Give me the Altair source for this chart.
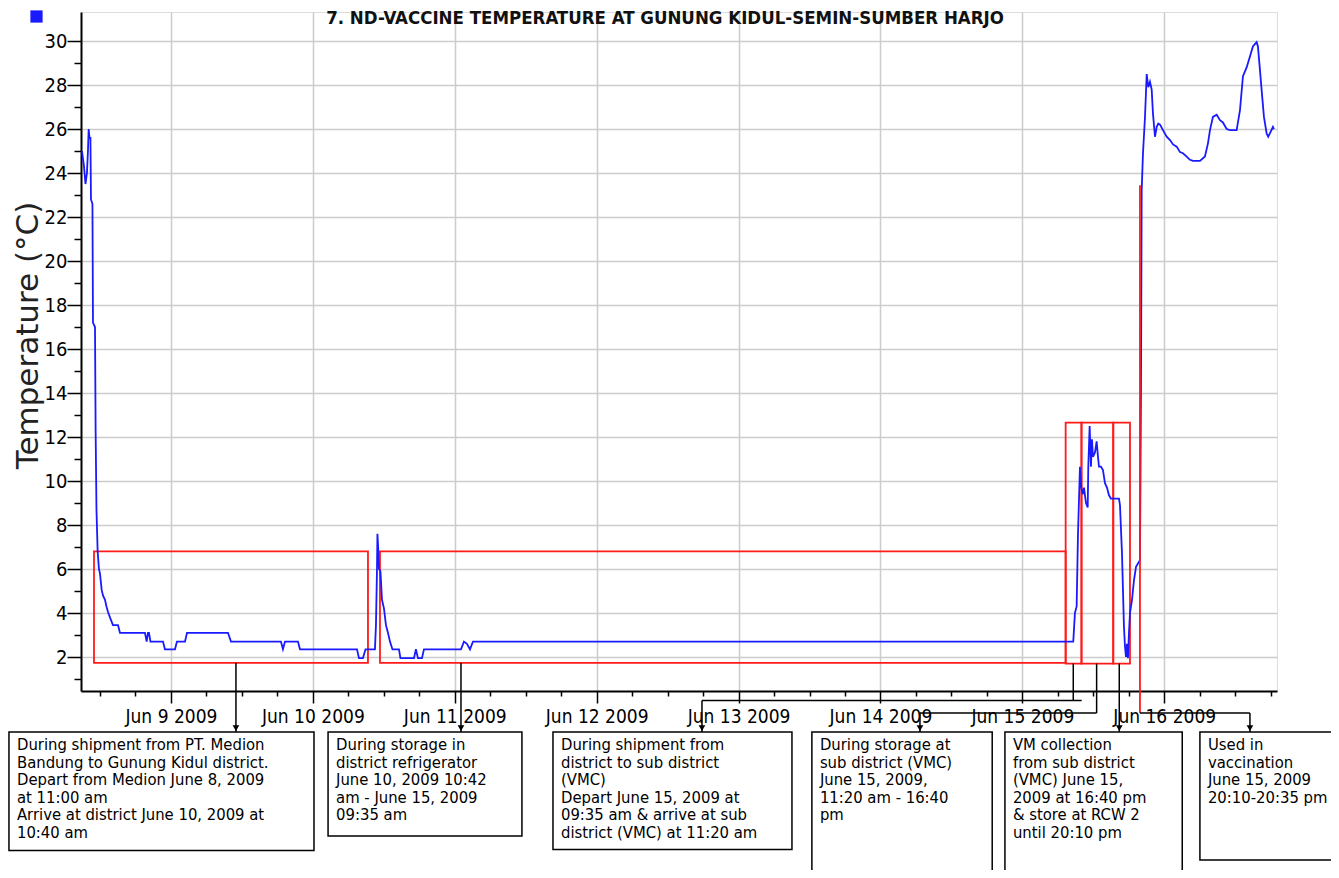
import altair as alt
import pandas as pd

TITLE = "7. ND-VACCINE TEMPERATURE AT GUNUNG KIDUL-SEMIN-SUMBER HARJO"
Y_TITLE = "Temperature (°C)"
BASE = pd.Timestamp("2009-06-08 00:00:00")

# logger readings: hours after Jun 8 2009 00:00 and temperature in °C
hours = [8.95, 9.29, 9.54, 9.79, 9.96, 10.08, 10.22, 10.38, 10.47, 10.72, 10.81, 11.15,
         11.26, 11.40, 11.60, 11.82, 11.99, 12.28, 12.50, 12.84, 13.09, 13.34, 13.68,
         14.19, 15.04, 15.37, 19.60, 19.89, 20.11, 20.28, 20.53, 22.65, 22.98, 24.68,
         25.01, 26.37, 26.71, 33.64, 34.15, 42.60, 42.94, 43.28, 45.48, 45.82, 55.46,
         55.80, 56.47, 56.90, 58.50, 58.67, 58.84, 58.92, 59.06, 59.18, 59.43, 59.69,
         60.03, 60.36, 60.70, 61.04, 61.46, 62.56, 62.81, 65.10, 65.43, 65.77, 66.45,
         66.79, 73.05, 73.55, 74.06, 74.57, 75.08, 176.61, 176.89, 177.18, 177.40,
         177.74, 177.96, 178.25, 178.42, 178.76, 179.05, 179.15, 179.38, 179.60, 179.77,
         179.94, 180.28, 180.56, 180.79, 180.96, 181.29, 181.63, 181.97, 182.31, 182.65,
         182.98, 184.34, 184.51, 184.85, 185.18, 185.35, 185.52, 185.69, 185.86, 186.03,
         186.20, 186.54, 186.88, 187.22, 187.55, 187.89, 188.06, 188.18, 188.40, 188.74,
         189.03, 189.30, 189.58, 189.87, 190.09, 190.43, 190.72, 190.99, 191.28, 191.78,
         192.41, 192.97, 193.48, 194.10, 194.66, 195.16, 195.79, 196.35, 196.85, 198.04,
         198.88, 199.39, 199.73, 200.23, 200.86, 201.42, 201.92, 202.55, 203.11, 204.24,
         204.80, 205.31, 205.93, 206.49, 206.99, 207.62, 207.84, 208.18, 208.52, 208.86,
         209.31, 209.58, 209.87, 210.38, 210.55]
temps = [25.0, 24.3, 23.5, 24.0, 25.0, 26.0, 25.6, 25.6, 22.8, 22.6, 17.2, 17.0,
         12.2, 8.7, 6.8, 6.0, 5.8, 5.05, 4.8, 4.6, 4.3, 4.06, 3.8,
         3.45, 3.45, 3.1, 3.1, 2.7, 3.1, 3.1, 2.7, 2.7, 2.35, 2.35,
         2.7, 2.7, 3.1, 3.1, 2.7, 2.7, 2.35, 2.7, 2.7, 2.35, 2.35,
         1.95, 1.95, 2.35, 2.35, 3.45, 5.9, 7.6, 6.9, 6.0, 5.9, 4.6,
         4.2, 3.45, 3.1, 2.7, 2.35, 2.35, 1.95, 1.95, 2.35, 1.95, 1.95,
         2.35, 2.35, 2.7, 2.6, 2.35, 2.7, 2.7, 4.0, 4.3, 7.5,
         10.65, 9.7, 9.4, 9.7, 9.0, 8.8, 10.65, 12.5, 10.65, 11.9,
         11.1, 11.3, 11.8, 11.1, 10.65, 10.65, 10.5, 9.9, 9.7, 9.35,
         9.2, 9.2, 8.9, 6.7, 3.4, 2.5, 2.0, 2.6, 1.95, 3.1,
         4.0, 4.6, 5.5, 6.1, 6.25, 6.4, 14.0, 23.2, 24.9, 26.55,
         28.5, 27.9, 28.15, 27.8, 26.7, 25.65, 26.1, 26.25, 26.2, 25.95,
         25.65, 25.5, 25.3, 25.2, 24.95, 24.9, 24.75, 24.6, 24.55, 24.55,
         24.75, 25.35, 25.95, 26.55, 26.65, 26.4, 26.3, 26.0, 25.95, 25.95,
         26.85, 28.4, 28.8, 29.3, 29.75, 29.95, 29.75, 28.7, 27.6, 26.55,
         25.8, 25.65, 25.8, 26.1, 26.0]

# red highlight frames (hours, °C)
frame_start = [10.98, 59.35, 175.32, 178.0, 183.37]
frame_end = [57.32, 175.32, 178.0, 183.37, 186.2]
frame_low = [1.73, 1.73, 1.7, 1.7, 1.7]
frame_high = [6.8, 6.8, 12.65, 12.65, 12.65]

# note boxes under the axis
note_text = [
    "During shipment from PT. Medion\nBandung to Gunung Kidul district.\nDepart from Medion June 8, 2009\nat 11:00 am\nArrive at district June 10, 2009 at\n10:40 am",
    "During storage in\ndistrict refrigerator\nJune 10, 2009 10:42\nam - June 15, 2009\n09:35 am",
    "During shipment from\ndistrict to sub district\n(VMC)\nDepart June 15, 2009 at\n09:35 am & arrive at sub\ndistrict (VMC) at 11:20 am",
    "During storage at\nsub district (VMC)\nJune 15, 2009,\n11:20 am - 16:40\npm",
    "VM collection\nfrom sub district\n(VMC) June 15,\n2009 at 16:40 pm\n& store at RCW 2\nuntil 20:10 pm",
    "Used in\nvaccination\nJune 15, 2009\n20:10-20:35 pm",
]
note_start = [-3.40, 50.57, 88.61, 132.4, 165.05, 198.03]
note_end = [48.19, 83.36, 129.03, 162.9, 195.04, 222.5]
note_top = [-1.41, -1.41, -1.41, -1.41, -1.41, -1.41]
note_bottom = [-6.8, -6.14, -6.75, -7.77, -7.95, -7.23]

# black connector segments (hours, °C)
seg_x1 = [34.99, 73.05, 176.61, 113.81, 113.81, 180.56, 150.68, 150.68, 184.39, 187.89, 206.49]
seg_x2 = [34.99, 73.05, 176.61, 178.03, 113.81, 180.56, 180.56, 150.68, 184.39, 206.49, 206.49]
seg_y1 = [1.73, 1.73, 1.7, 0.02, 0.02, 1.7, -0.545, -0.545, 1.7, -0.545, -0.545]
seg_y2 = [-1.41, -1.41, 0.02, 0.02, -1.41, -0.545, -0.545, -1.41, -1.41, -0.545, -1.41]
# red marker line (use in vaccination)
red_x = [187.89]
red_y1 = [23.45]
red_y2 = [-0.545]
arrow_x = [34.99, 73.05, 113.81, 150.68, 184.39, 206.49]
arrow_y = [-1.23, -1.23, -1.23, -1.23, -1.23, -1.23]


def ts(hs):
    return [(BASE + pd.to_timedelta(h, unit="h")).strftime("%Y-%m-%dT%H:%M:%S") for h in hs]


line_df = pd.DataFrame({"time": ts(hours), "temp": temps, "series": ["T"] * len(temps)})
frame_df = pd.DataFrame({"x1": ts(frame_start), "x2": ts(frame_end), "y1": frame_low, "y2": frame_high})
note_df = pd.DataFrame({"x1": ts(note_start), "x2": ts(note_end), "y1": note_top,
                        "y2": note_bottom, "label": note_text})
seg_df = pd.DataFrame({"x1": ts(seg_x1), "x2": ts(seg_x2), "y1": seg_y1, "y2": seg_y2})
red_df = pd.DataFrame({"x1": ts(red_x), "y1": red_y1, "y2": red_y2})
arrow_df = pd.DataFrame({"x1": ts(arrow_x), "y1": arrow_y})

x_ticks = []
for d in range(8, 17):
    for hh in (0, 6, 12, 18):
        if (d == 8 and hh < 12) or (d == 16 and hh > 18):
            continue
        x_ticks.append(alt.DateTime(year=2009, month=6, date=d, hours=hh))

XS = alt.Scale(domain=[alt.DateTime(year=2009, month=6, date=8, hours=8, minutes=47),
                       alt.DateTime(year=2009, month=6, date=16, hours=19, minutes=4)])
YS = alt.Scale(domain=[0.455, 31.32], nice=False, zero=False)

LABEL_FONT = "DejaVu Sans Condensed, DejaVu Sans, sans-serif"
NOTE_FONT = "DejaVu Sans Condensed, DejaVu Sans, sans-serif"

XA = alt.Axis(
    values=x_ticks, title=None,
    labelExpr="hours(datum.value) === 0 ? timeFormat(datum.value, '%b %-d %Y') : ''",
    labelFont=LABEL_FONT, labelFontSize=19, labelColor="black", labelPadding=4,
    labelOverlap=False, labelFlush=False,
    tickSize={"condition": {"test": "hours(datum.value) === 0", "value": 12}, "value": 5},
    tickColor="black", tickWidth=1.5,
    domainColor="black", domainWidth=2,
    grid=True, gridColor="#cccccc", gridWidth=1.5,
    gridOpacity={"condition": {"test": "hours(datum.value) === 0", "value": 1}, "value": 0},
)
YA = alt.Axis(
    values=list(range(1, 31)), title=Y_TITLE,
    labelExpr="datum.value % 2 === 0 ? datum.label : ''",
    labelFont=LABEL_FONT, labelFontSize=20, labelColor="black", labelPadding=0,
    labelOverlap=False, labelFlush=False,
    tickSize={"condition": {"test": "datum.value % 2 === 0", "value": 14}, "value": 7},
    tickColor="black", tickWidth=1.5,
    domainColor="black", domainWidth=2,
    grid=True, gridColor="#cccccc", gridWidth=1.5,
    gridOpacity={"condition": {"test": "datum.value % 2 === 0", "value": 1}, "value": 0},
    titleFont="DejaVu Sans, sans-serif", titleFontSize=31, titleFontWeight="normal",
    titleColor="#222222", titleAngle=270, titleX=-53, titleY=323, titleAlign="center",
    titleBaseline="middle",
)

line = alt.Chart(line_df).mark_line(strokeWidth=1.8, clip=False).encode(
    x=alt.X("time:T", scale=XS, axis=XA),
    y=alt.Y("temp:Q", scale=YS, axis=YA),
    color=alt.Color("series:N", scale=alt.Scale(range=["#1a1aff"]),
                    legend=alt.Legend(orient="none", legendX=-51, legendY=-2, title=None,
                                      symbolType="square", symbolSize=150,
                                      symbolFillColor="#1a1aff", symbolStrokeWidth=0,
                                      labelExpr="''", padding=0)),
)

frames = alt.Chart(frame_df).mark_rect(fillOpacity=0, stroke="#ff1a1a", strokeWidth=1.8).encode(
    x=alt.X("x1:T", scale=XS, axis=XA), x2="x2:T",
    y=alt.Y("y1:Q", scale=YS, axis=YA), y2="y2:Q",
)

notes = alt.Chart(note_df).mark_rect(fill="white", stroke="black", strokeWidth=1.5).encode(
    x=alt.X("x1:T", scale=XS, axis=XA), x2="x2:T",
    y=alt.Y("y1:Q", scale=YS, axis=YA), y2="y2:Q",
)

note_labels = alt.Chart(note_df).mark_text(
    align="left", baseline="top", dx=8, dy=5, lineBreak="\n", lineHeight=17.6,
    font=NOTE_FONT, fontSize=16.5, color="black",
).encode(
    x=alt.X("x1:T", scale=XS, axis=XA),
    y=alt.Y("y1:Q", scale=YS, axis=YA),
    text="label:N",
)

segs = alt.Chart(seg_df).mark_rule(color="black", strokeWidth=1.5).encode(
    x=alt.X("x1:T", scale=XS, axis=XA), x2="x2:T",
    y=alt.Y("y1:Q", scale=YS, axis=YA), y2="y2:Q",
)

red = alt.Chart(red_df).mark_rule(color="#ff1a1a", strokeWidth=1.8).encode(
    x=alt.X("x1:T", scale=XS, axis=XA),
    y=alt.Y("y1:Q", scale=YS, axis=YA), y2="y2:Q",
)

arrows = alt.Chart(arrow_df).mark_point(shape="triangle-down", filled=True, size=45,
                                        color="black", opacity=1).encode(
    x=alt.X("x1:T", scale=XS, axis=XA),
    y=alt.Y("y1:Q", scale=YS, axis=YA),
)

chart = alt.layer(frames, line, red, segs, notes, note_labels, arrows).properties(
    width=1196, height=679,
    autosize=alt.AutoSizeParams(type="none"),
    padding={"left": 73, "top": 4, "right": 54, "bottom": 179},
    title=alt.Title(TITLE, font="DejaVu Sans Condensed, DejaVu Sans, sans-serif",
                    fontSize=18.5, fontWeight="bold", color="#111111", anchor="middle",
                    frame="group", baseline="middle", offset=-26, dx=-14),
).configure_view(stroke=None).configure(background="white")

chart.save("out.html", embed_options={"renderer": "svg", "actions": False})
